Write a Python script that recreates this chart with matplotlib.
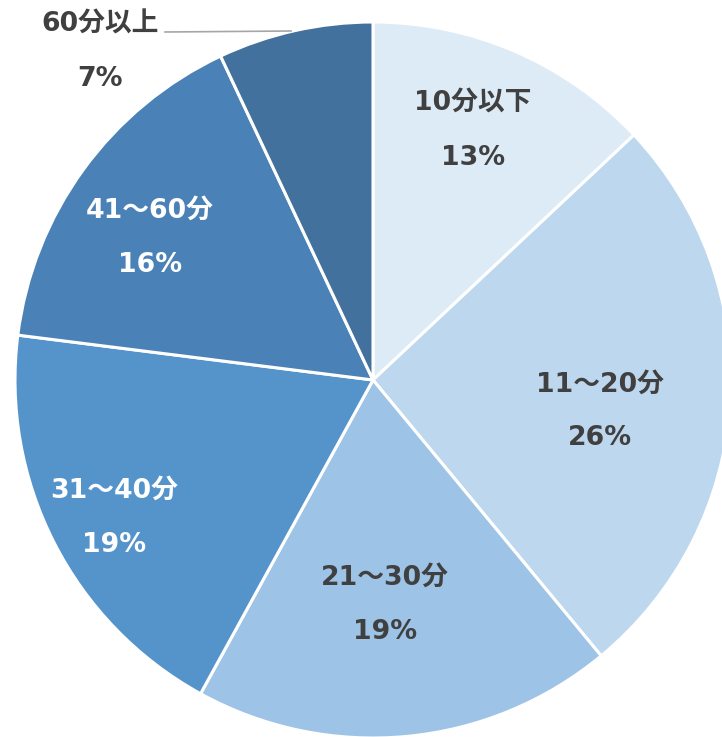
import matplotlib
matplotlib.use("Agg")
import matplotlib.pyplot as plt
import numpy as np

plt.rcParams['font.family'] = ['DejaVu Sans', 'Noto Sans CJK JP']

categories = ["10分以下", "11～20分", "21～30分", "31～40分", "41～60分", "60分以上"]
values = [13, 26, 19, 19, 16, 7]
pct_labels = ["13%", "26%", "19%", "19%", "16%", "7%"]
colors = ["#DDEBF7", "#BDD7EE", "#9DC3E6", "#5593CB", "#4A82B7", "#41719C"]
text_colors = ["#404040", "#404040", "#404040", "#FFFFFF", "#FFFFFF", "#404040"]

W, H = 722, 737
cx, cy, R = 373, 380, 358  # pixel layout of the pie

fig = plt.figure(figsize=(W / 100, H / 100), dpi=100)
ax = fig.add_axes([0, 0, 1, 1])
wedges, _ = ax.pie(values, colors=colors, startangle=90, counterclock=False,
                   radius=1.0, wedgeprops=dict(edgecolor="white", linewidth=2.2))
ax.set_aspect('auto')
ax.set_xlim(-cx / R, (W - cx) / R)
ax.set_ylim(-(H - cy) / R, cy / R)
ax.axis('off')

# label placement (radius, angle offset in degrees) per slice
label_r = [0.75, 0.64, 0.63, 0.82, 0.74, None]
label_da = [1.5, -4.3, -2.3, 1.0, 3.5, 0]
gap = 54 / R / 2

for i, w in enumerate(wedges):
    mid = np.deg2rad((w.theta1 + w.theta2) / 2 + label_da[i])
    if label_r[i] is None:
        x, y = (100 - cx) / R, (cy - 52) / R
    else:
        x, y = label_r[i] * np.cos(mid), label_r[i] * np.sin(mid)
    ax.text(x, y + gap, categories[i], ha='center', va='center', fontsize=19.3,
            fontweight='bold', color=text_colors[i])
    ax.text(x, y - gap, pct_labels[i], ha='center', va='center', fontsize=19.3,
            fontweight='bold', color=text_colors[i])

# leader line for the small slice
ax.plot([(165 - cx) / R, (291 - cx) / R], [(cy - 32) / R, (cy - 31) / R],
        color="#A6A6A6", linewidth=1.2)

fig.savefig("out.png", dpi=100)
